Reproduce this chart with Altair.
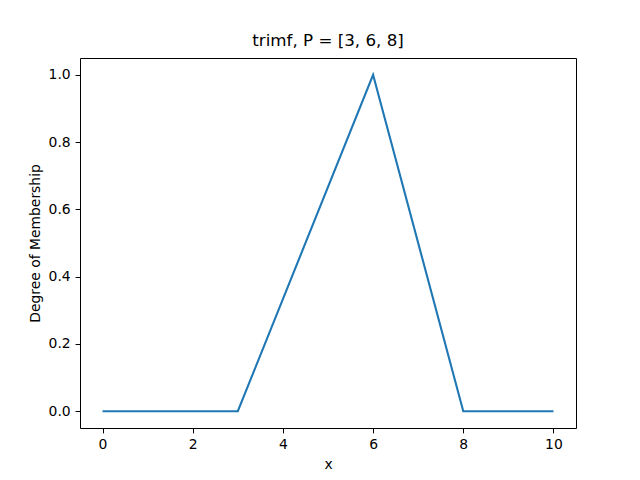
import altair as alt
import pandas as pd

xs = [0, 3, 6, 8, 10]
ys = [0.0, 0.0, 1.0, 0.0, 0.0]

df = pd.DataFrame({"x": xs, "y": ys})

FONT = "DejaVu Sans"

chart = (
    alt.Chart(df)
    .mark_line(color="#1f77b4", strokeWidth=2.1, clip=True)
    .encode(
        x=alt.X("x:Q", scale=alt.Scale(domain=[-0.5, 10.5], nice=False, zero=False),
                axis=alt.Axis(title="x", values=[0, 2, 4, 6, 8, 10], format="d")),
        y=alt.Y("y:Q", scale=alt.Scale(domain=[-0.05, 1.05], nice=False, zero=False),
                axis=alt.Axis(title="Degree of Membership", values=[0, 0.2, 0.4, 0.6, 0.8, 1.0], format=".1f")),
    )
    .properties(
        width=496,
        height=370,
        title=alt.TitleParams("trimf, P = [3, 6, 8]", font=FONT, fontSize=16.7, fontWeight="normal",
                              color="black", offset=8, anchor="middle"),
        padding={"left": 72, "top": 50, "right": 56, "bottom": 44},
        autosize="none",
    )
    .configure_view(stroke="black", strokeWidth=1)
    .configure_axis(
        grid=False,
        domain=False,
        tickColor="black",
        tickSize=4.9,
        tickWidth=1,
        labelFont=FONT,
        labelFontSize=13.9,
        labelColor="black",
        labelPadding=4.9,
        titleFont=FONT,
        titleFontSize=13.9,
        titleFontWeight="normal",
        titleColor="black",
        titlePadding=6,
    )
)

chart.save("out.html", embed_options={"renderer": "svg", "actions": False})
